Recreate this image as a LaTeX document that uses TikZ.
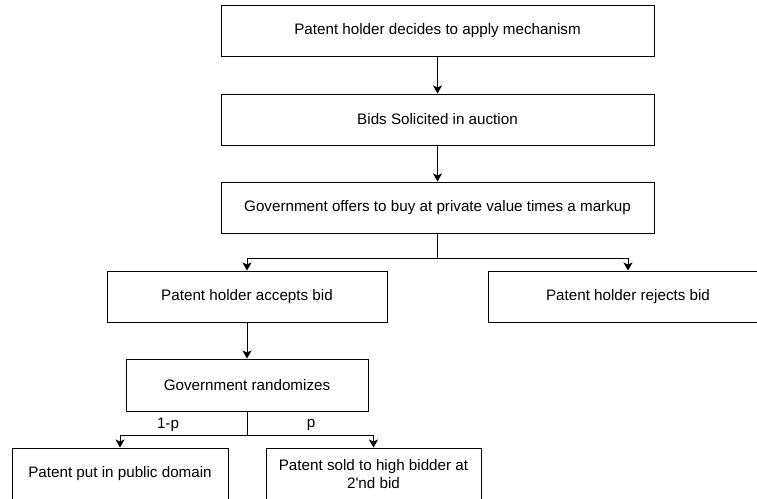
\documentclass[tikz,border=0pt]{standalone}
\usepackage{fontspec}
\setmainfont{Liberation Sans}
\usetikzlibrary{arrows.meta}
\begin{document}
\begin{tikzpicture}[->,>={Stealth[length=8pt,width=9pt,inset=2pt]},x=1pt,y=-1pt,line width=1pt]
    \tikzstyle{box}=[draw,rectangle,minimum height=51pt,inner sep=2pt,align=center,font=\fontsize{15.2}{17.5}\selectfont];
    \tikzstyle{lbl}=[inner sep=1pt,font=\fontsize{15.2}{17.5}\selectfont];

    \useasboundingbox (0,0) rectangle (757,498);
    \clip (0,0) rectangle (757,498);

    \node at (437.5,30.5)  (apply)   [box,minimum width=433pt] {Patent holder decides to apply mechanism};
    \node at (437.5,119.5) (solicit) [box,minimum width=433pt] {Bids Solicited in auction};
    \node at (437.5,207.5) (offer)   [box,minimum width=433pt] {Government offers to buy at private value times a markup};
    \node at (247,296.5)   (accept)  [box,minimum width=280pt] {Patent holder accepts bid};
    \node at (628,296.5)   (reject)  [box,minimum width=280pt] {Patent holder rejects bid};
    \node at (247,385)     (random)  [box,minimum width=242pt,minimum height=52pt] {Government randomizes};
    \node at (120,474)     (public)  [box,minimum width=216pt,minimum height=52pt] {Patent put in public domain};
    \node at (373.5,474)   (sold)    [box,minimum width=215pt,minimum height=52pt] {Patent sold to high bidder at\\2\textquotesingle nd bid};

    \coordinate (fork) at (437.5,258);
    \coordinate (toss) at (247,435);

    \node at (168,425) (oneminus) [lbl] {1-p};
    \node at (311,425) (prob)     [lbl] {p};

    \draw (apply) to (solicit);
    \draw (solicit) to (offer);
    \draw[-] (offer) -- (fork);
    \draw (fork) -| (accept);
    \draw (fork) -| (reject);
    \draw (accept) to (random);
    \draw[-] (random) -- (toss);
    \draw (toss) -| (public);
    \draw (toss) -| (sold);
\end{tikzpicture}
\end{document}
